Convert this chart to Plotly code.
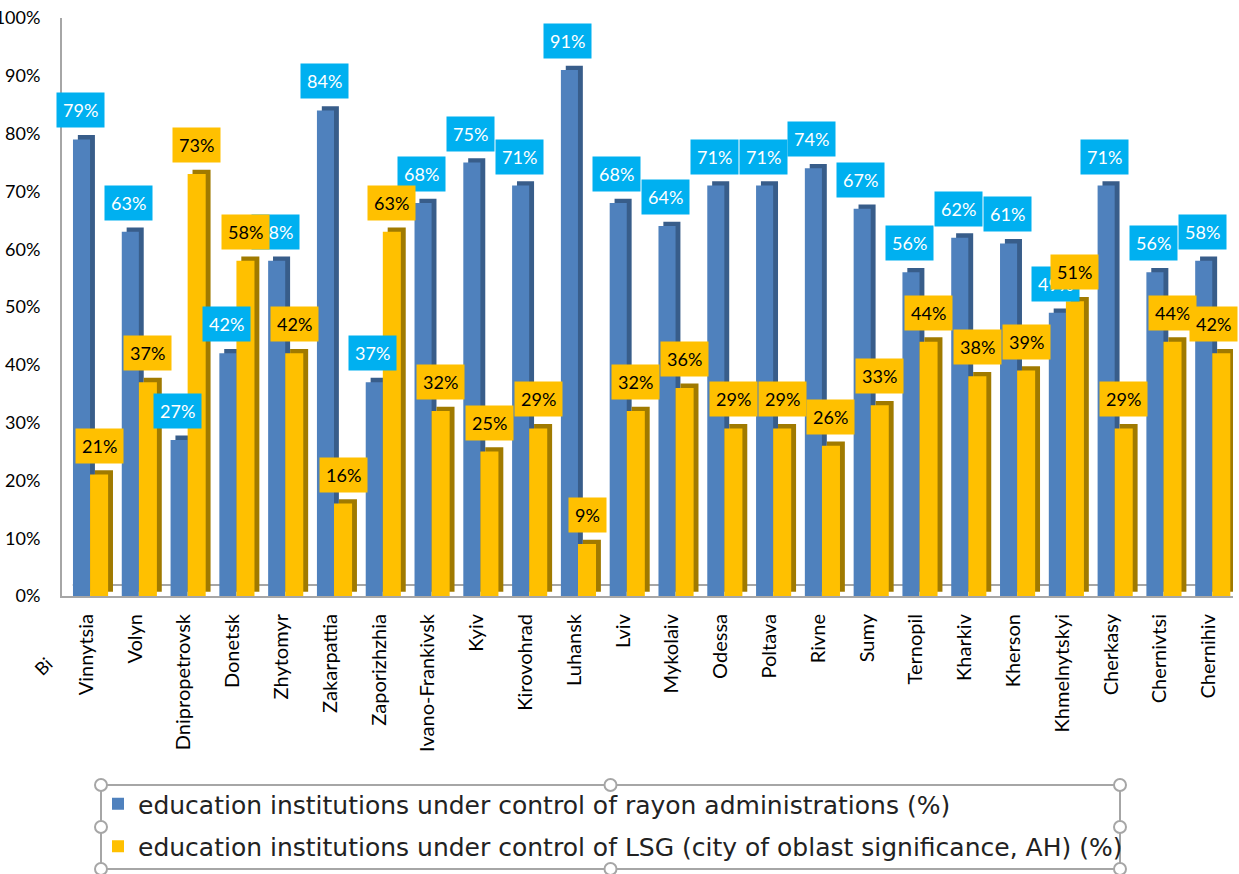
import plotly.graph_objects as go

regions = ["Vinnytsia", "Volyn", "Dnipropetrovsk", "Donetsk", "Zhytomyr", "Zakarpattia",
           "Zaporizhzhia", "Ivano-Frankivsk", "Kyiv", "Kirovohrad", "Luhansk", "Lviv",
           "Mykolaiv", "Odessa", "Poltava", "Rivne", "Sumy", "Ternopil", "Kharkiv",
           "Kherson", "Khmelnytskyi", "Cherkasy", "Chernivtsi", "Chernihiv"]
rayon_pct = [79, 63, 27, 42, 58, 84, 37, 68, 75, 71, 91, 68, 64, 71, 71, 74, 67, 56, 62, 61, 49, 71, 56, 58]
lsg_pct = [21, 37, 73, 58, 42, 16, 63, 32, 25, 29, 9, 32, 36, 29, 29, 26, 33, 44, 38, 39, 51, 29, 44, 42]
y_ticks = [0, 10, 20, 30, 40, 50, 60, 70, 80, 90, 100]
y_tick_text = [f"{v}%" for v in y_ticks]

series_names = ["education institutions under control of rayon administrations (%)",
                "education institutions under control of LSG (city of oblast significance, AH) (%)"]

FONT = "Lato"
BLUE, BLUE_DARK, BLUE_LBL = "#4F81BD", "#385D8A", "#00B0F0"
ORANGE, ORANGE_DARK, ORANGE_LBL = "#FFC000", "#A07A00", "#FFC000"

x = list(range(len(regions)))
n = len(regions)

W, H = 1239, 874
ml, mr, mt, mb = 62, 6, 18, 278
pw, ph = W - ml - mr, H - mt - mb
unit = pw / n

def px(xp):
    return (xp - ml) / pw

def py(yp):
    return (H - mb - yp) / ph

blue_off, blue_w = -0.275, 0.35
or_off, or_w = 0.075, 0.37
depth_x, depth_y = 0.1, 0.75

fig = go.Figure()
fig.add_trace(go.Bar(x=x, y=rayon_pct, base=[depth_y] * n, offset=blue_off + depth_x, width=blue_w,
                     marker=dict(color=BLUE_DARK, line=dict(width=0)), showlegend=False, hoverinfo="skip"))
fig.add_trace(go.Bar(x=x, y=rayon_pct, offset=blue_off, width=blue_w, name=series_names[0],
                     marker=dict(color=BLUE, line=dict(width=0)), legendgroup="a"))
fig.add_trace(go.Bar(x=x, y=lsg_pct, base=[depth_y] * n, offset=or_off + depth_x, width=or_w,
                     marker=dict(color=ORANGE_DARK, line=dict(width=0)), showlegend=False, hoverinfo="skip"))
fig.add_trace(go.Bar(x=x, y=lsg_pct, offset=or_off, width=or_w, name=series_names[1],
                     marker=dict(color=ORANGE, line=dict(width=0)), legendgroup="b"))

LBL_HALF = 25

def edge_shift(xc):
    pxc = ml + (xc + 0.5) * unit
    over = pxc + LBL_HALF - (W - 1)
    return -over if over > 0 else 0

annotations = []
for i, v in enumerate(rayon_pct):
    xc = i + blue_off + blue_w / 2 - 0.03
    annotations.append(dict(x=xc, y=v, xref="x", yref="y", text=f"{v}%",
                            showarrow=False, yshift=29, xshift=edge_shift(xc), yanchor="middle",
                            bgcolor=BLUE_LBL, borderpad=6, font=dict(family=FONT, size=18, color="white")))
for i, v in enumerate(lsg_pct):
    xc = i + or_off + or_w / 2
    annotations.append(dict(x=xc, y=v, xref="x", yref="y", text=f"{v}%",
                            showarrow=False, yshift=29, xshift=edge_shift(xc), yanchor="middle",
                            bgcolor=ORANGE_LBL, borderpad=6, font=dict(family=FONT, size=18, color="black")))
annotations.append(dict(x=px(27), y=py(682), xref="paper", yref="paper", text="Bi", showarrow=False,
                        textangle=-45, font=dict(family=FONT, size=18, color="black")))

shapes = []
shapes.append(dict(type="line", xref="x", yref="y", x0=-0.28, x1=n - 0.5, y0=1.9, y1=1.9,
                   line=dict(color="#A6A6A6", width=2), layer="below"))
lx0, lx1, ly0, ly1 = 101, 1120, 785, 869
shapes.append(dict(type="rect", xref="paper", yref="paper", x0=px(lx0), x1=px(lx1), y0=py(ly1), y1=py(ly0),
                   line=dict(color="#A6A6A6", width=2), fillcolor="rgba(0,0,0,0)"))
r = 6
for hx in (lx0, (lx0 + lx1) / 2, lx1):
    for hy in (ly0, (ly0 + ly1) / 2, ly1):
        if hx == (lx0 + lx1) / 2 and hy == (ly0 + ly1) / 2:
            continue
        shapes.append(dict(type="circle", xref="paper", yref="paper", x0=px(hx - r), x1=px(hx + r),
                           y0=py(hy + r), y1=py(hy - r), line=dict(color="#A6A6A6", width=2),
                           fillcolor="white"))

fig.update_layout(
    width=W, height=H, margin=dict(l=ml, r=mr, t=mt, b=mb, autoexpand=False),
    plot_bgcolor="white", paper_bgcolor="white", barmode="overlay",
    font=dict(family=FONT, color="black"),
    xaxis=dict(range=[-0.5, n - 0.5], tickvals=x, ticktext=regions, tickangle=-90,
               tickfont=dict(family=FONT, size=20, color="black"), showgrid=False, zeroline=False,
               showline=True, linecolor="#A6A6A6", linewidth=2, ticks="", ticklabelstandoff=8,
               automargin=False),
    yaxis=dict(range=[0, 100], tickvals=y_ticks, ticktext=y_tick_text, showgrid=False, zeroline=False,
               showline=True, linecolor="#A6A6A6", linewidth=2, ticks="", ticklabelstandoff=16,
               tickfont=dict(family=FONT, size=18, color="black"), automargin=False),
    legend=dict(x=px(98), y=py(781), xanchor="left", yanchor="top", tracegroupgap=7,
                font=dict(family="DejaVu Sans", size=25, color="#222"), bgcolor="rgba(0,0,0,0)"),
    annotations=annotations, shapes=shapes,
)

fig.write_html("out.html", config={"displayModeBar": False},
               post_script="document.body.style.margin='0px';document.body.style.overflow='hidden';")
